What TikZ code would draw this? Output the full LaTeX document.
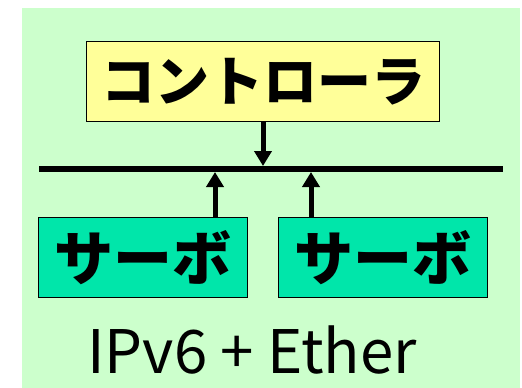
\documentclass[tikz,border=0pt]{standalone}
\usepackage{fontspec}
\setmainfont{Noto Sans CJK JP}
\usetikzlibrary{arrows.meta}
\definecolor{bggreen}{HTML}{CCFFCC}
\definecolor{ctrlyellow}{HTML}{FFFF99}
\definecolor{servogreen}{HTML}{00E6AA}
\tikzset{
  box/.style={draw=black, line width=1.3pt, inner sep=0pt, anchor=north west},
  ctrlbox/.style={box, fill=ctrlyellow, minimum width=353pt, minimum height=80pt},
  servobox/.style={box, fill=servogreen, minimum width=209pt, minimum height=80pt},
  ctrlfont/.style={font=\fontsize{54}{54}\selectfont\bfseries},
  servofont/.style={font=\fontsize{59}{59}\selectfont\bfseries},
  bus/.style={line width=6pt},
  sig/.style={line width=5pt, -{Triangle[width=17pt,length=15pt]}},
}
\begin{document}
\begin{tikzpicture}[x=1pt,y=-1pt]
\useasboundingbox (0,0) rectangle (522,388);
\fill[bggreen] (22,8) rectangle (520,388);
\node[ctrlbox] (ctrl) at (86,41) {};
\node[ctrlfont] at (ctrl.center) (ctrltext) {コントローラ};
\node[servobox] (s1) at (38,217) {};
\node[servofont] at (s1.center) (s1text) {サーボ};
\node[servobox] (s2) at (278,217) {};
\node[servofont] at (s2.center) (s2text) {サーボ};
\coordinate (busL) at (39,169);
\coordinate (busR) at (503,169);
\draw[bus] (busL) -- (busR);
\coordinate (downtip) at (263,166);
\coordinate (up1) at (215,172);
\coordinate (up2) at (311,172);
\draw[sig] (ctrl.south -| downtip) -- (downtip);
\draw[sig] (s1.north -| up1) -- (up1);
\draw[sig] (s2.north -| up2) -- (up2);
\node[anchor=base west, inner sep=0pt, font=\fontsize{60}{60}\selectfont] (label) at (87,373) {IPv6 + Ether};
\end{tikzpicture}
\end{document}
